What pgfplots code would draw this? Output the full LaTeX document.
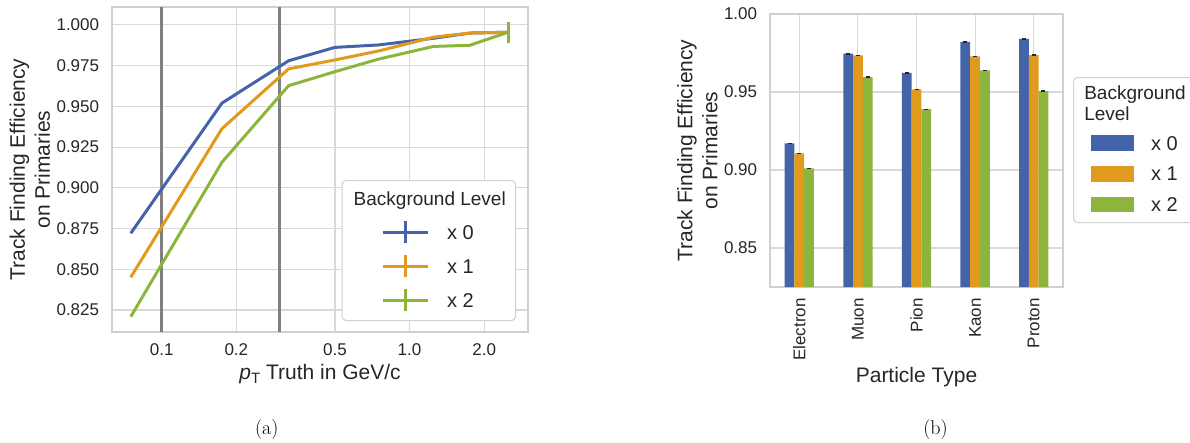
\documentclass[border=0pt]{standalone}
\usepackage{pgfplots}
\pgfplotsset{compat=1.18}
\usepackage{pgfplotstable}
\usepackage{fontspec}
\newfontfamily\arialf{Liberation Sans}
\definecolor{cb}{HTML}{4464AA}
\definecolor{co}{HTML}{E09A1E}
\definecolor{cg}{HTML}{8DB53C}
\definecolor{gridc}{HTML}{D9D9D9}
\definecolor{framec}{HTML}{D0D0D0}
\definecolor{vlc}{HTML}{808080}
\definecolor{txt}{HTML}{262626}

\pgfplotstableread{
x     b      o      g      eb     eo     eg
0.075 0.8721 0.8451 0.8209 0      0      0
0.175 0.9520 0.9363 0.9157 0      0      0
0.325 0.9780 0.9730 0.9627 0      0      0
0.5   0.9862 0.9785 0.9713 0      0      0
0.75  0.9877 0.9840 0.9790 0      0      0
1.25  0.9918 0.9925 0.9868 0      0      0
1.75  0.9950 0.9950 0.9875 0      0      0
2.5   0.9955 0.9955 0.9955 0.0060 0.0060 0.0065
}\effA

\pgfplotstableread{
x b      o      g      eb     eo     eg
0 0.9171 0.9107 0.9011 0.0004 0.0004 0.0004
1 0.9746 0.9735 0.9596 0.0004 0.0004 0.0004
2 0.9622 0.9517 0.9391 0.0003 0.0003 0.0003
3 0.9821 0.9729 0.9639 0.0003 0.0003 0.0003
4 0.9840 0.9737 0.9506 0.0006 0.0007 0.0006
}\effB

\pgfplotsset{
  sbstyle/.style={
    scale only axis,
    axis line style={framec, line width=1.3pt},
    grid=major,
    major grid style={gridc, line width=1.1pt},
    major tick length=0pt,
    minor tick num=0,
    tick label style={font=\arialf\fontsize{17}{20}\selectfont, text=txt, inner sep=0pt},
    /pgf/number format/assume math mode=true,
    label style={font=\arialf\fontsize{21}{25}\selectfont, text=txt, align=center},
    xticklabel shift=11pt,
    yticklabel shift=12.7pt,
  }
}

\begin{document}
\begin{tikzpicture}
\path[use as bounding box] (0pt,0pt) rectangle (1190pt,-443pt);

% ---------------- (a) ----------------
\begin{axis}[sbstyle,
  at={(112pt,-332pt)}, anchor=south west,
  width=416pt, height=325pt,
  xmode=log, xmin=0.063, xmax=3.006,
  ymin=0.8115, ymax=1.011,
  xtick={0.1,0.2,0.5,1,2},
  xticklabels={0.1,0.2,0.5,1.0,2.0},
  ytick={0.825,0.850,0.875,0.900,0.925,0.950,0.975,1.000},
  yticklabel style={/pgf/number format/fixed, /pgf/number format/fixed zerofill, /pgf/number format/precision=3},
  xlabel={{\itshape p}\raisebox{-4pt}{\fontsize{15}{15}\selectfont T} Truth in GeV/c},
  xlabel style={at={(axis description cs:0.5,0)}, anchor=base, yshift=-47pt},
  ylabel={Track Finding Efficiency\\on Primaries},
  ylabel style={at={(axis description cs:-0.1977,0.5)}, anchor=center},
  legend image code/.code={
    \path (0pt,0pt);
    \draw[#1, line width=3pt, sharp corners] (31pt,0pt) -- (76pt,0pt);
    \draw[#1, line width=3pt, sharp corners] (53.5pt,-11pt) -- (53.5pt,11pt);
  },
  legend cell align=left,
  legend style={at={(0.9712,0.0338)}, anchor=south east,
    draw=framec, line width=1pt, fill=white, rounded corners=4pt,
    inner xsep=9.7pt, inner ysep=8pt,
    column sep=17.3pt, row sep=9pt,
    font=\arialf\fontsize{20}{24}\selectfont, text=txt,
    nodes={inner sep=0pt, text height=17pt, text depth=3pt}},
]
\addplot[vlc, line width=3pt, forget plot] coordinates {(0.1,0.8115) (0.1,1.011)};
\addplot[vlc, line width=3pt, forget plot] coordinates {(0.3,0.8115) (0.3,1.011)};

\addplot[cb, line width=3pt, forget plot, error bars/.cd, y dir=both, y explicit,
  error bar style={line width=3pt}, error mark=none] table[x=x, y=b, y error=eb]{\effA};
\addplot[co, line width=3pt, forget plot, error bars/.cd, y dir=both, y explicit,
  error bar style={line width=3pt}, error mark=none] table[x=x, y=o, y error=eo]{\effA};
\addplot[cg, line width=3pt, forget plot, error bars/.cd, y dir=both, y explicit,
  error bar style={line width=3pt}, error mark=none] table[x=x, y=g, y error=eg]{\effA};

\addlegendimage{empty legend}
\addlegendentry[text depth=5pt]{\fontsize{19}{21}\selectfont\hspace*{-93.3pt}Background Level}
\addlegendimage{draw=cb}
\addlegendentry{x 0}
\addlegendimage{draw=co}
\addlegendentry{x 1}
\addlegendimage{draw=cg}
\addlegendentry{x 2}
\end{axis}

% ---------------- (b) ----------------
\begin{axis}[sbstyle,
  at={(770pt,-287pt)}, anchor=south west,
  width=293pt, height=273pt,
  xmin=-0.5, xmax=4.5,
  ymin=0.825, ymax=1.0,
  xtick={0,1,2,3,4},
  xticklabels={Electron,Muon,Pion,Kaon,Proton},
  xticklabel style={rotate=90, anchor=east},
  ytick={0.85,0.90,0.95,1.00},
  yticklabel style={/pgf/number format/fixed, /pgf/number format/fixed zerofill, /pgf/number format/precision=2},
  xlabel={Particle Type},
  xlabel style={at={(axis description cs:0.5,0)}, anchor=base, yshift=-95pt},
  ylabel={Track Finding Efficiency\\on Primaries},
  ylabel style={at={(axis description cs:-0.248,0.5)}, anchor=center},
  ybar, bar width=9.77pt,
  legend image code/.code={
    \path (0pt,0pt);
    \fill[#1, draw=none, sharp corners] (6.7pt,-7.85pt) rectangle (49.4pt,7.85pt);
  },
  legend cell align=left,
  legend style={at={(1.0341,0.7692)}, anchor=north west,
    draw=framec, line width=1pt, fill=white, rounded corners=4pt,
    inner xsep=10.3pt, inner ysep=8pt,
    column sep=17.3pt, row sep=10.7pt,
    font=\arialf\fontsize{20}{24}\selectfont, text=txt,
    nodes={inner sep=0pt, text height=17pt, text depth=3pt}},
]
\addplot[ybar, bar shift=-9.77pt, fill=cb, draw=none, forget plot,
  error bars/.cd, y dir=both, y explicit, error bar style={draw=txt, line width=4pt}, error mark=none]
  table[x=x, y=b, y error=eb]{\effB};
\addplot[ybar, bar shift=0pt, fill=co, draw=none, forget plot,
  error bars/.cd, y dir=both, y explicit, error bar style={draw=txt, line width=4pt}, error mark=none]
  table[x=x, y=o, y error=eo]{\effB};
\addplot[ybar, bar shift=9.77pt, fill=cg, draw=none, forget plot,
  error bars/.cd, y dir=both, y explicit, error bar style={draw=txt, line width=4pt}, error mark=none]
  table[x=x, y=g, y error=eg]{\effB};

\addlegendimage{empty legend}
\addlegendentry[text height=14.3pt, text depth=22.7pt]{\fontsize{19}{21}\selectfont\hspace*{-66.7pt}\begin{tabular}[t]{@{}l@{}}Background\\Level\end{tabular}}
\addlegendimage{fill=cb}
\addlegendentry{x 0}
\addlegendimage{fill=co}
\addlegendentry{x 1}
\addlegendimage{fill=cg}
\addlegendentry{x 2}
\end{axis}

\node[font=\fontsize{20}{24}\selectfont, anchor=center] at (266.7pt,-430pt) {(a)};
\node[font=\fontsize{20}{24}\selectfont, anchor=center] at (935.5pt,-430pt) {(b)};
\end{tikzpicture}
\end{document}
